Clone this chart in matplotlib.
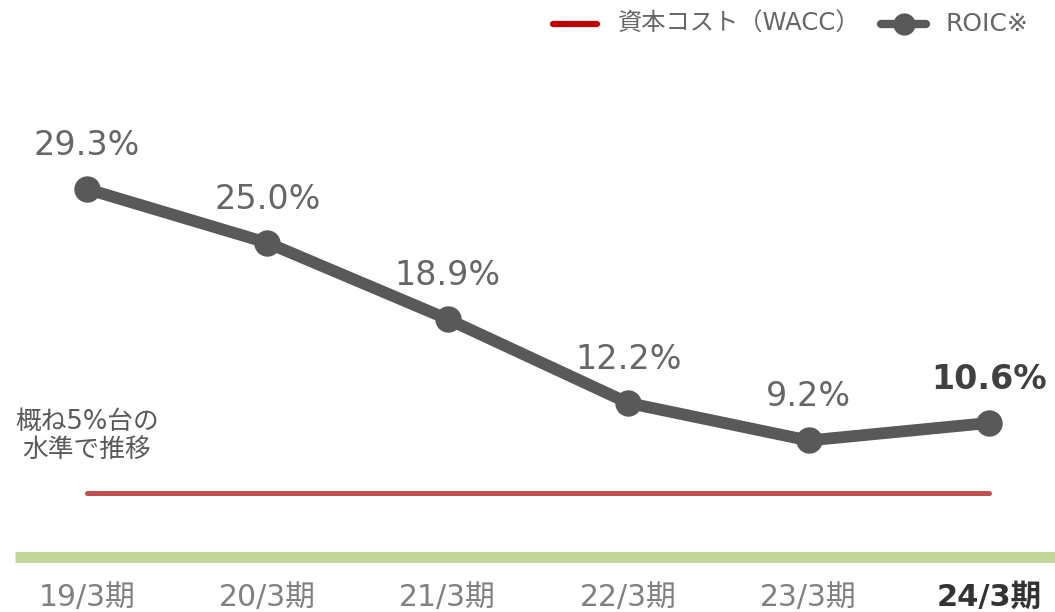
import matplotlib
matplotlib.use('Agg')
import matplotlib.pyplot as plt
from matplotlib.lines import Line2D

plt.rcParams['font.family'] = ['DejaVu Sans', 'Noto Sans CJK JP']

periods = ['19/3期', '20/3期', '21/3期', '22/3期', '23/3期', '24/3期']
roic = [29.3, 25.0, 18.9, 12.2, 9.2, 10.6]
wacc = [5.0] * len(periods)
roic_labels = ['29.3%', '25.0%', '18.9%', '12.2%', '9.2%', '10.6%']
legend_labels = ['資本コスト（WACC）', 'ROIC※']
note = '概ね5%台の\n水準で推移'

gray = '#595959'
red = '#c0504d'
green = '#c4d79b'


def main():
    fig = plt.figure(figsize=(10.55, 6.12), dpi=100)
    ax = fig.add_axes([0, 0, 1, 1])
    x = list(range(len(periods)))

    ax.plot([-0.399, 5.37], [-0.08, -0.08], color=green, lw=8,
            solid_capstyle='butt', zorder=1)
    ax.plot(x, wacc, color=red, lw=3.6, solid_capstyle='round', zorder=2)
    ax.plot(x, roic, color=gray, lw=8.5, marker='o', markersize=18,
            solid_capstyle='round', zorder=3)

    for i, (v, lab) in enumerate(zip(roic, roic_labels)):
        last = i == len(roic) - 1
        ax.annotate(lab, (i, v), xytext=(0, 31.5), textcoords='offset points',
                    ha='center', va='center',
                    fontsize=24,
                    fontweight='bold' if last else 'normal',
                    color='#404040' if last else '#666666')

    for i, p in enumerate(periods):
        last = i == len(periods) - 1
        ax.text(i, -3.35, p, ha='center', va='center',
                fontsize=22 if last else 21.5,
                fontweight='bold' if last else 'normal',
                color='#333333' if last else '#808080')

    ax.text(0, 9.6, note, ha='center', va='center', fontsize=18.5,
            color=gray, linespacing=1.1, multialignment='center')

    # legend drawn by hand in figure fractions
    W, H = 1055.0, 612.0
    ly = 1 - 24 / H
    fig.add_artist(Line2D([553 / W, 597 / W], [ly, ly],
                          color='#c00000', lw=4.5, solid_capstyle='round'))
    fig.text(618 / W, ly, legend_labels[0], ha='left', va='center',
             fontsize=17.5, color='#666666')
    fig.add_artist(Line2D([881 / W, 926 / W], [ly, ly],
                          color=gray, lw=6, solid_capstyle='round'))
    fig.add_artist(Line2D([903.5 / W], [ly], color=gray,
                          marker='o', markersize=15, lw=0))
    fig.text(946 / W, ly, legend_labels[1], ha='left', va='center',
             fontsize=18, color='#666666')

    ax.set_xlim(-0.482, 5.366)
    ax.set_ylim(-4.51, 44.41)
    ax.axis('off')
    fig.savefig('out.png', dpi=100)


if __name__ == '__main__':
    main()
